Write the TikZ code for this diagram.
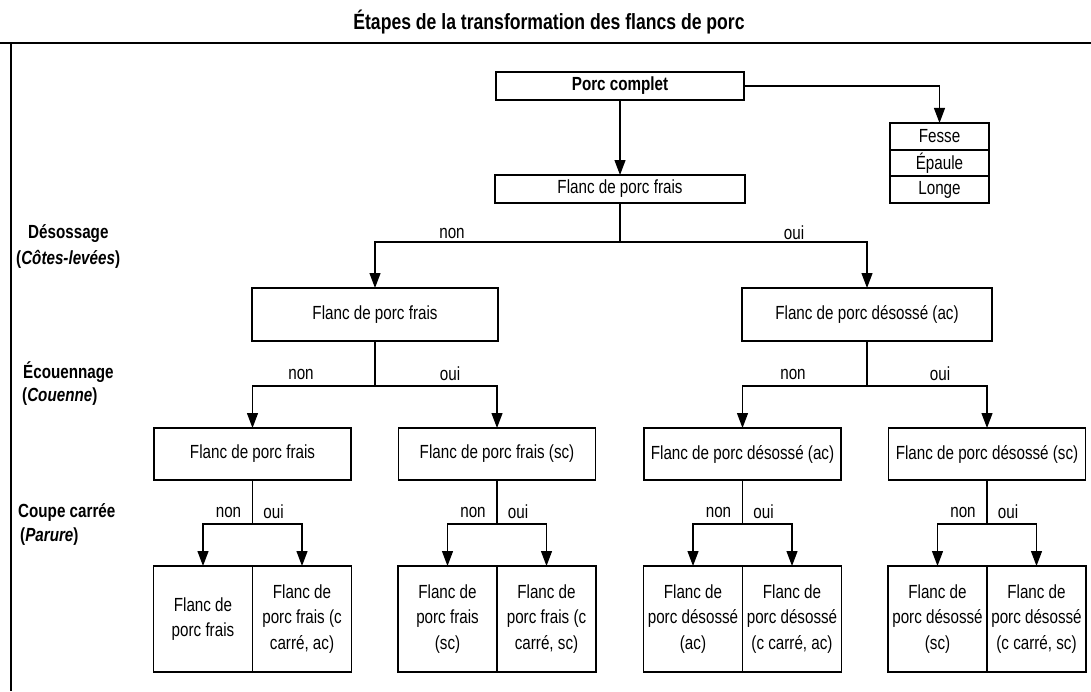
\documentclass[tikz,border=0pt]{standalone}
\usepackage{fontspec}
\setmainfont{Liberation Sans}[FakeStretch=0.8]
\usetikzlibrary{arrows.meta,positioning}
\newcommand{\txtsize}{\fontsize{19}{25.5}\selectfont}
\tikzset{
  box/.style={draw, line width=1.8pt, outer sep=0pt, inner sep=1pt,
              minimum height=28pt, align=center},
  half/.style={box, minimum width=99pt, minimum height=106pt},
  link/.style={-{Triangle[length=15pt,width=11pt]}, line width=1.2pt},
  wire/.style={line width=1.2pt},
  yn/.style={inner sep=0pt},
  stage/.style={font=\txtsize\bfseries, anchor=base west, inner sep=0pt},
}

\begin{document}
\begin{tikzpicture}[x=1pt, y=-1pt, font=\txtsize]
\useasboundingbox (0,0) rectangle (1091,691);

% title and frame
\node[font=\fontsize{22}{26}\selectfont\bfseries] (title) at (549,22)
  {Étapes de la transformation des flancs de porc};
\draw[line width=2.4pt] (0,43) -- (1091,43);
\draw[line width=2pt] (11,43) -- (11,691);

% whole pig
\node[box, font=\txtsize\bfseries, minimum width=248pt] (porc) at (620,86) {Porc complet};
\node[box, minimum width=99pt, minimum height=26.7pt] (fesse) at (939.5,136.3) {Fesse};
\node[box, minimum width=99pt, minimum height=26.7pt, below=0pt of fesse] (epaule) {Épaule};
\node[box, minimum width=99pt, minimum height=26.7pt, below=0pt of epaule] (longe) {Longe};
\node[box, minimum width=250pt] (frais) at (620,189) {Flanc de porc frais};

\draw[link] (porc) -- (frais);
\draw[link] (porc.east) -| (fesse.north);

% stages
\node[stage] (sdes) at (28,238) {Désossage};
\node[stage] (sdesb) at (16,264) {(\textit{Côtes-levées})};
\node[stage] (secou) at (23,378) {Écouennage};
\node[stage] (secoub) at (22,401) {(\textit{Couenne})};
\node[stage] (scoupe) at (18,517) {Coupe carrée};
\node[stage] (scoupeb) at (20,541) {(\textit{Parure})};

% désossage
\node[box, minimum width=246pt, minimum height=53pt] (dnon) at (375,314.5) {Flanc de porc frais};
\node[box, minimum width=250pt, minimum height=53pt] (doui) at (867,314.5) {Flanc de porc désossé (ac)};
\draw[wire] (frais.south) -- ++(0,39) coordinate (d0);
\draw[link] (d0) -| (dnon.north);
\draw[link] (d0) -| (doui.north);
\node[yn] (dn) at (452,233) {non};
\node[yn] (do) at (794,233) {oui};

% écouennage
\node[box, minimum width=197pt, minimum height=52pt] (enn) at (252.5,454) {Flanc de porc frais};
\node[box, minimum width=197pt, minimum height=52pt] (eno) at (497,454) {Flanc de porc frais (sc)};
\node[box, minimum width=197pt, minimum height=52pt] (eon) at (742.5,454) {Flanc de porc désossé (ac)};
\node[box, minimum width=197pt, minimum height=52pt] (eoo) at (987,454) {Flanc de porc désossé (sc)};
\draw[wire] (dnon.south) -- ++(0,45) coordinate (e1);
\draw[wire] (doui.south) -- ++(0,45) coordinate (e2);
\draw[link] (e1) -| (enn.north);
\draw[link] (e1) -| (eno.north);
\draw[link] (e2) -| (eon.north);
\draw[link] (e2) -| (eoo.north);
\node[yn] (en1) at (301,374) {non};
\node[yn] (eo1) at (450,374) {oui};
\node[yn] (en2) at (793,374) {non};
\node[yn] (eo2) at (940,374) {oui};

% coupe carrée
\node[half] (c1n) at (203,619) {Flanc de\\porc frais};
\node[half, right=0pt of c1n] (c1o) {Flanc de\\porc frais (c\\carré, ac)};
\node[half] (c2n) at (447.5,619) {Flanc de\\porc frais\\(sc)};
\node[half, right=0pt of c2n] (c2o) {Flanc de\\porc frais (c\\carré, sc)};
\node[half] (c3n) at (693,619) {Flanc de\\porc désossé\\(ac)};
\node[half, right=0pt of c3n] (c3o) {Flanc de\\porc désossé\\(c carré, ac)};
\node[half] (c4n) at (937.5,619) {Flanc de\\porc désossé\\(sc)};
\node[half, right=0pt of c4n] (c4o) {Flanc de\\porc désossé\\(c carré, sc)};

\draw[wire] (enn.south) -- ++(0,44) coordinate (k1);
\draw[wire] (eno.south) -- ++(0,44) coordinate (k2);
\draw[wire] (eon.south) -- ++(0,44) coordinate (k3);
\draw[wire] (eoo.south) -- ++(0,44) coordinate (k4);
\draw[link] (k1) -| (c1n.north);
\draw[link] (k1) -| (c1o.north);
\draw[link] (k2) -| (c2n.north);
\draw[link] (k2) -| (c2o.north);
\draw[link] (k3) -| (c3n.north);
\draw[link] (k3) -| (c3o.north);
\draw[link] (k4) -| (c4n.north);
\draw[link] (k4) -| (c4o.north);

\node[yn] (kn1) at (228.5,512) {non};
\node[yn] (ko1) at (273.5,512) {oui};
\node[yn] (kn2) at (473,512) {non};
\node[yn] (ko2) at (518,512) {oui};
\node[yn] (kn3) at (718.5,512) {non};
\node[yn] (ko3) at (763.5,512) {oui};
\node[yn] (kn4) at (963,512) {non};
\node[yn] (ko4) at (1008,512) {oui};

\end{tikzpicture}
\end{document}
